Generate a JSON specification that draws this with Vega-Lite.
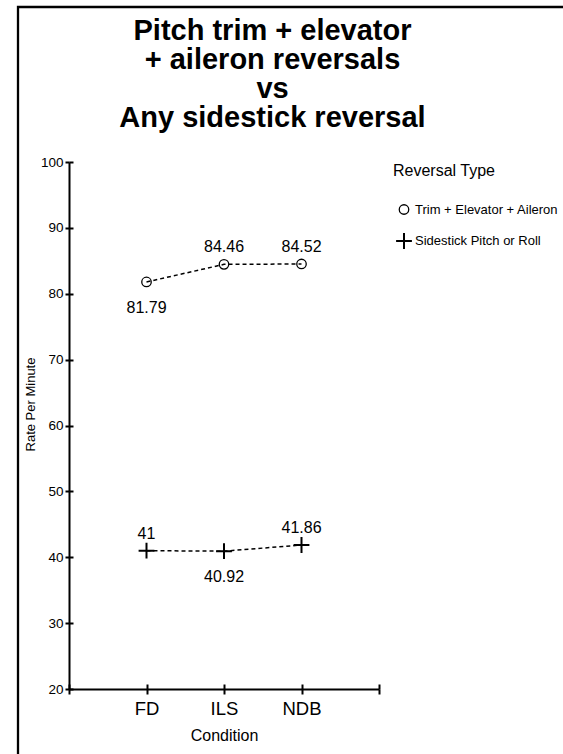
{
  "$schema": "https://vega.github.io/schema/vega-lite/v6.json",
  "width": 545,
  "height": 747,
  "autosize": {"type": "none"},
  "padding": {"left": 18, "top": 7, "right": 0, "bottom": 0},
  "background": "white",
  "title": {
    "text": ["Pitch trim + elevator", "+ aileron reversals", "vs", "Any sidestick reversal"],
    "font": "Liberation Sans",
    "fontSize": 29,
    "fontWeight": "bold",
    "lineHeight": 29,
    "color": "black",
    "anchor": "middle",
    "frame": "group",
    "baseline": "bottom",
    "offset": -155,
    "dx": -18
  },
  "data": {
    "values": [
      {"Condition": "FD", "Type": "Trim + Elevator + Aileron", "Rate": 81.79},
      {"Condition": "ILS", "Type": "Trim + Elevator + Aileron", "Rate": 84.46},
      {"Condition": "NDB", "Type": "Trim + Elevator + Aileron", "Rate": 84.52},
      {"Condition": "FD", "Type": "Sidestick Pitch or Roll", "Rate": 41},
      {"Condition": "ILS", "Type": "Sidestick Pitch or Roll", "Rate": 40.92},
      {"Condition": "NDB", "Type": "Sidestick Pitch or Roll", "Rate": 41.86}
    ]
  },
  "layer": [
    {
      "mark": {"type": "line", "strokeDash": [4, 3], "strokeWidth": 1.5, "color": "black"},
      "encoding": {
        "x": {
          "field": "Condition", "type": "nominal",
          "scale": {"type": "point", "domain": [" ", "FD", "ILS", "NDB", "  "], "range": [51, 361], "padding": 0},
          "axis": {"orient": "bottom", "offset": -65, "tickSize": 5, "tickWidth": 2, "domainWidth": 2, "domainColor": "black", "tickColor": "black", "labelAngle": 0, "labelFontSize": 18.5, "labelColor": "black", "labelPadding": 5, "title": "Condition", "titleFontSize": 16, "titleFontWeight": "normal", "titleColor": "black", "titlePadding": 10, "grid": false}
        },
        "y": {
          "field": "Rate", "type": "quantitative",
          "scale": {"domain": [20, 100], "range": [682, 155], "nice": false, "zero": false},
          "axis": {"orient": "left", "offset": -51, "values": [20, 30, 40, 50, 60, 70, 80, 90, 100], "tickSize": 4, "tickWidth": 2, "domainWidth": 2, "domainColor": "black", "tickColor": "black", "labelFontSize": 13.5, "labelColor": "black", "labelPadding": 2, "title": "Rate Per Minute", "titleFontSize": 13, "titleFontWeight": "normal", "titleColor": "black", "titleBaseline": "middle", "titleX": -39, "titleY": 397, "grid": false}
        },
        "detail": {"field": "Type", "type": "nominal"}
      }
    },
    {
      "mark": {"type": "point", "filled": false, "color": "black", "opacity": 1},
      "encoding": {
        "x": {"field": "Condition", "type": "nominal", "axis": null},
        "y": {"field": "Rate", "type": "quantitative", "axis": null},
        "shape": {
          "field": "Type", "type": "nominal",
          "scale": {"domain": ["Trim + Elevator + Aileron", "Sidestick Pitch or Roll"], "range": ["circle", "M-1,0H1M0,-1V1"]},
          "legend": {"title": "Reversal Type"}
        },
        "size": {
          "field": "Type", "type": "nominal",
          "scale": {"domain": ["Trim + Elevator + Aileron", "Sidestick Pitch or Roll"], "range": [90, 250]},
          "legend": {"title": "Reversal Type"}
        },
        "strokeWidth": {
          "field": "Type", "type": "nominal",
          "scale": {"domain": ["Trim + Elevator + Aileron", "Sidestick Pitch or Roll"], "range": [1.3, 2]},
          "legend": {"title": "Reversal Type"}
        }
      }
    },
    {
      "transform": [{"filter": "!((datum.Type == 'Trim + Elevator + Aileron' && datum.Condition == 'FD') || (datum.Type == 'Sidestick Pitch or Roll' && datum.Condition == 'ILS'))"}],
      "mark": {"type": "text", "dy": -17, "fontSize": 16, "color": "black", "baseline": "middle", "align": "center"},
      "encoding": {
        "x": {"field": "Condition", "type": "nominal", "axis": null},
        "y": {"field": "Rate", "type": "quantitative", "axis": null},
        "text": {"field": "Rate", "type": "quantitative"}
      }
    },
    {
      "transform": [{"filter": "(datum.Type == 'Trim + Elevator + Aileron' && datum.Condition == 'FD') || (datum.Type == 'Sidestick Pitch or Roll' && datum.Condition == 'ILS')"}],
      "mark": {"type": "text", "dy": 26, "fontSize": 16, "color": "black", "baseline": "middle", "align": "center"},
      "encoding": {
        "x": {"field": "Condition", "type": "nominal", "axis": null},
        "y": {"field": "Rate", "type": "quantitative", "axis": null},
        "text": {"field": "Rate", "type": "quantitative"}
      }
    },
    {
      "mark": {"type": "point", "opacity": 0},
      "encoding": {
        "x": {
          "field": "Condition", "type": "nominal",
          "axis": {"orient": "bottom", "offset": -70, "tickSize": 5, "tickWidth": 2, "tickColor": "black", "domain": false, "labels": false, "title": null, "grid": false}
        },
        "y": {
          "field": "Rate", "type": "quantitative",
          "axis": {"orient": "left", "offset": -55, "values": [20, 30, 40, 50, 60, 70, 80, 90, 100], "tickSize": 4, "tickWidth": 2, "tickColor": "black", "domain": false, "labels": false, "title": null, "grid": false}
        }
      }
    }
  ],
  "resolve": {"axis": {"x": "independent", "y": "independent"}},
  "config": {
    "font": "Liberation Sans",
    "view": {"stroke": "black", "strokeWidth": 2.3, "strokeDash": [545, 1292, 747]},
    "legend": {
      "orient": "none",
      "legendX": 375,
      "legendY": 156,
      "titleFontSize": 16,
      "titleFontWeight": "normal",
      "titleColor": "black",
      "titlePadding": 24,
      "labelFontSize": 13,
      "labelColor": "black",
      "labelLimit": 300,
      "rowPadding": 12,
      "symbolStrokeColor": "black",
      "symbolOffset": 2,
      "labelOffset": 2,
      "padding": 0
    }
  }
}
